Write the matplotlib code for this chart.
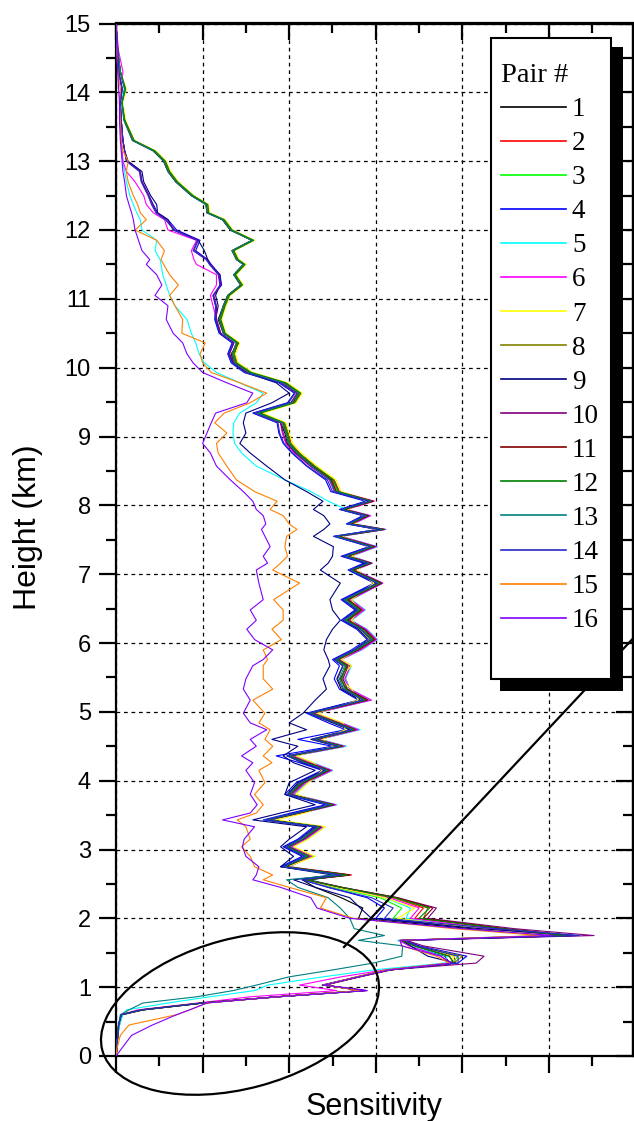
import numpy as np
import matplotlib
matplotlib.use("Agg")
import matplotlib.pyplot as plt
from matplotlib.patches import Ellipse, Rectangle
from matplotlib.lines import Line2D
from matplotlib.ticker import MultipleLocator, NullFormatter
from matplotlib import transforms

W, H = 634, 1121
OUT_FILE = "out.png"

plt.rcParams["font.family"] = ["Liberation Sans", "DejaVu Sans"]

# height grid (km), shared by all 16 pairs
HEIGHT = [0.0, 0.1, 0.3, 0.45, 0.6, 0.67, 0.77, 0.86, 0.95, 1.03, 1.15, 1.25, 1.35, 1.45, 1.6, 1.68, 1.75, 1.85, 2.0, 2.15, 2.3, 2.45, 2.56,
          2.63, 2.75, 2.9, 3.04, 3.15, 3.33, 3.43, 3.53, 3.65, 3.8, 3.97, 4.15, 4.26, 4.36, 4.5, 4.6, 4.74, 4.84, 4.98, 5.17, 5.33, 5.48, 5.67, 5.76,
          5.9, 6.05, 6.2, 6.33, 6.48, 6.63, 6.87, 7.06, 7.16, 7.26, 7.4, 7.55, 7.65, 7.73, 7.85, 7.94, 8.06,
          8.2, 8.37, 8.57, 8.76, 8.9, 9.05, 9.2, 9.34, 9.49, 9.63, 9.78, 9.93, 10.07, 10.2, 10.36, 10.5, 10.7, 10.9, 11.05, 11.2,
          11.35, 11.5, 11.57, 11.7, 11.85, 12.0, 12.15, 12.25, 12.37, 12.5, 12.7, 12.85, 13.0, 13.15, 13.3, 13.6, 13.85, 14.05, 14.3, 14.6, 15.0]

# sensitivity of each pair along HEIGHT
PAIR_1 = [0.00, 0.01, 0.02, 0.04, 0.07, 0.32, 1.02, 1.88, 2.88, 2.38, 2.78, 3.12, 3.85, 3.80, 3.40, 3.28, 5.15, 4.10, 2.80, 2.85, 2.60, 2.30, 2.15,
          2.60, 1.92, 2.18, 1.95, 2.12, 2.30, 1.80, 2.05, 2.45, 1.98, 2.10, 2.40, 2.15, 1.98, 2.55, 2.25, 2.70, 2.50, 2.22, 2.82, 2.60, 2.55, 2.62, 2.52,
          2.75, 2.92, 2.80, 2.62, 2.78, 2.62, 3.00, 2.70, 2.88, 2.62, 2.93, 2.55, 3.02, 2.68, 2.86, 2.60, 2.90,
          2.52, 2.48, 2.25, 2.08, 1.98, 1.95, 1.90, 1.68, 2.02, 2.10, 1.92, 1.52, 1.36, 1.33, 1.42, 1.24, 1.18, 1.24, 1.29, 1.44,
          1.36, 1.47, 1.40, 1.34, 1.57, 1.32, 1.23, 1.05, 1.04, 0.87, 0.69, 0.60, 0.55, 0.43, 0.20, 0.10, 0.07, 0.11, 0.05, 0.02, 0.00]
PAIR_2 = [0.00, 0.01, 0.02, 0.03, 0.06, 0.28, 0.98, 1.85, 2.85, 2.42, 2.82, 3.18, 3.92, 3.90, 3.48, 3.32, 5.25, 4.45, 3.45, 3.55, 3.20, 2.55, 2.20,
          2.72, 2.00, 2.25, 2.02, 2.18, 2.38, 1.78, 2.15, 2.52, 2.05, 2.20, 2.50, 2.25, 2.05, 2.65, 2.35, 2.80, 2.60, 2.30, 2.92, 2.70, 2.65, 2.70, 2.58,
          2.82, 3.00, 2.88, 2.70, 2.85, 2.70, 3.08, 2.75, 2.95, 2.70, 3.00, 2.58, 3.10, 2.72, 2.92, 2.65, 2.98,
          2.58, 2.52, 2.30, 2.12, 2.02, 1.99, 1.95, 1.67, 2.07, 2.14, 1.97, 1.57, 1.40, 1.37, 1.41, 1.26, 1.21, 1.26, 1.31, 1.46,
          1.38, 1.49, 1.41, 1.36, 1.59, 1.34, 1.25, 1.07, 1.06, 0.89, 0.71, 0.62, 0.57, 0.45, 0.21, 0.10, 0.07, 0.11, 0.05, 0.02, 0.00]
PAIR_3 = [0.00, 0.01, 0.02, 0.03, 0.07, 0.31, 1.01, 1.87, 2.86, 2.41, 2.79, 3.14, 3.88, 3.95, 3.45, 3.30, 5.10, 4.30, 3.20, 3.30, 3.05, 2.50, 2.22,
          2.65, 1.97, 2.28, 2.00, 2.20, 2.40, 1.82, 2.12, 2.48, 2.03, 2.18, 2.42, 2.22, 2.03, 2.58, 2.33, 2.72, 2.58, 2.28, 2.85, 2.68, 2.62, 2.68, 2.57,
          2.80, 2.95, 2.83, 2.68, 2.84, 2.68, 3.03, 2.74, 2.92, 2.68, 2.95, 2.57, 3.05, 2.73, 2.88, 2.64, 2.93,
          2.56, 2.51, 2.29, 2.11, 2.01, 1.98, 1.94, 1.66, 2.06, 2.13, 1.96, 1.56, 1.39, 1.36, 1.40, 1.25, 1.20, 1.25, 1.30, 1.45,
          1.37, 1.48, 1.40, 1.35, 1.58, 1.33, 1.24, 1.06, 1.05, 0.88, 0.70, 0.61, 0.56, 0.44, 0.20, 0.10, 0.07, 0.11, 0.05, 0.02, 0.00]
PAIR_4 = [0.00, 0.01, 0.02, 0.03, 0.06, 0.29, 0.99, 1.86, 2.87, 2.39, 2.81, 3.16, 3.95, 4.05, 3.50, 3.35, 5.30, 4.30, 3.00, 3.10, 2.90, 2.45, 2.15,
          2.58, 1.90, 2.15, 1.93, 2.10, 2.28, 1.70, 2.02, 2.42, 1.95, 2.08, 2.38, 2.12, 1.85, 2.50, 2.10, 2.65, 2.45, 2.20, 2.80, 2.58, 2.52, 2.58, 2.50,
          2.72, 2.90, 2.78, 2.60, 2.76, 2.60, 2.98, 2.68, 2.86, 2.60, 2.92, 2.52, 3.02, 2.66, 2.85, 2.58, 2.88,
          2.48, 2.42, 2.20, 2.03, 1.93, 1.88, 1.86, 1.58, 1.98, 2.06, 1.88, 1.48, 1.33, 1.29, 1.34, 1.19, 1.14, 1.15, 1.12, 1.22,
          1.20, 1.10, 1.06, 0.92, 0.97, 0.70, 0.60, 0.48, 0.43, 0.38, 0.30, 0.28, 0.13, 0.10, 0.08, 0.06, 0.05, 0.07, 0.03, 0.02, 0.00]
PAIR_5 = [0.00, 0.01, 0.02, 0.04, 0.08, 0.12, 0.60, 1.08, 1.60, 1.75, 2.39, 2.97, 3.80, 3.82, 3.40, 3.25, 4.95, 4.25, 3.35, 3.40, 3.10, 2.55, 2.25,
          2.62, 2.00, 2.25, 2.02, 2.20, 2.40, 1.80, 2.15, 2.55, 2.05, 2.20, 2.50, 2.28, 2.06, 2.66, 2.35, 2.82, 2.60, 2.30, 2.95, 2.70, 2.65, 2.72, 2.60,
          2.84, 3.02, 2.90, 2.72, 2.88, 2.72, 3.08, 2.76, 2.96, 2.72, 3.02, 2.60, 3.12, 2.74, 2.94, 2.66, 2.45,
          2.25, 1.95, 1.62, 1.45, 1.37, 1.35, 1.36, 1.43, 1.62, 1.70, 1.43, 1.16, 1.02, 0.96, 0.92, 0.87, 0.82, 0.68, 0.62, 0.58,
          0.54, 0.52, 0.51, 0.45, 0.47, 0.30, 0.28, 0.24, 0.20, 0.16, 0.12, 0.10, 0.08, 0.07, 0.06, 0.05, 0.06, 0.08, 0.03, 0.01, 0.00]
PAIR_6 = [0.00, 0.01, 0.02, 0.03, 0.06, 0.25, 0.95, 1.55, 2.55, 2.12, 2.60, 3.10, 3.85, 3.75, 3.38, 3.27, 5.05, 4.30, 3.40, 3.50, 3.15, 2.55, 2.20,
          2.64, 1.99, 2.26, 2.03, 2.19, 2.39, 1.79, 2.14, 2.54, 2.04, 2.19, 2.49, 2.26, 2.05, 2.64, 2.34, 2.80, 2.60, 2.30, 2.95, 2.70, 2.64, 2.71, 2.60,
          2.83, 3.01, 2.89, 2.71, 2.87, 2.71, 3.08, 2.76, 2.96, 2.71, 3.01, 2.60, 3.11, 2.74, 2.94, 2.66, 2.98,
          2.52, 2.46, 2.24, 2.06, 1.96, 1.92, 1.90, 1.62, 2.02, 2.10, 1.92, 1.52, 1.36, 1.31, 1.36, 1.21, 1.16, 1.12, 1.09, 1.16,
          1.16, 0.93, 0.90, 0.87, 0.93, 0.60, 0.56, 0.43, 0.35, 0.32, 0.22, 0.12, 0.08, 0.07, 0.06, 0.05, 0.04, 0.06, 0.08, 0.03, 0.00]
PAIR_7 = [0.00, 0.01, 0.02, 0.03, 0.06, 0.30, 1.00, 1.86, 2.84, 2.40, 2.80, 3.15, 3.88, 3.90, 3.44, 3.30, 5.00, 4.20, 3.25, 3.45, 3.10, 2.55, 2.20,
          2.62, 1.98, 2.30, 2.05, 2.22, 2.42, 1.85, 2.18, 2.45, 2.08, 2.22, 2.38, 2.28, 2.08, 2.52, 2.38, 2.65, 2.62, 2.32, 2.80, 2.72, 2.58, 2.72, 2.60,
          2.78, 2.93, 2.82, 2.72, 2.80, 2.72, 2.98, 2.78, 2.90, 2.72, 2.92, 2.60, 3.02, 2.75, 2.86, 2.67, 2.90,
          2.60, 2.54, 2.32, 2.14, 2.04, 2.00, 1.96, 1.70, 2.08, 2.15, 1.98, 1.58, 1.41, 1.38, 1.43, 1.27, 1.22, 1.27, 1.32, 1.47,
          1.39, 1.50, 1.42, 1.37, 1.60, 1.35, 1.26, 1.08, 1.07, 0.90, 0.72, 0.63, 0.58, 0.46, 0.21, 0.11, 0.08, 0.12, 0.05, 0.02, 0.00]
PAIR_8 = [0.00, 0.01, 0.02, 0.03, 0.06, 0.30, 1.00, 1.86, 2.86, 2.40, 2.80, 3.15, 3.90, 4.00, 3.46, 3.30, 5.20, 4.45, 3.55, 3.60, 3.20, 2.60, 2.20,
          2.66, 1.94, 2.24, 1.99, 2.16, 2.36, 1.77, 2.09, 2.49, 2.01, 2.14, 2.44, 2.19, 2.01, 2.57, 2.31, 2.74, 2.54, 2.26, 2.87, 2.64, 2.61, 2.65, 2.56,
          2.77, 2.96, 2.84, 2.65, 2.81, 2.65, 3.04, 2.71, 2.92, 2.65, 2.96, 2.54, 3.07, 2.69, 2.89, 2.61, 2.94,
          2.55, 2.50, 2.28, 2.10, 2.00, 1.97, 1.93, 1.65, 2.05, 2.12, 1.95, 1.55, 1.38, 1.35, 1.40, 1.25, 1.20, 1.25, 1.30, 1.45,
          1.37, 1.48, 1.40, 1.35, 1.58, 1.33, 1.24, 1.06, 1.05, 0.88, 0.70, 0.61, 0.56, 0.44, 0.20, 0.10, 0.07, 0.11, 0.05, 0.02, 0.00]
PAIR_9 = [0.00, 0.01, 0.02, 0.03, 0.06, 0.30, 1.00, 1.86, 2.85, 2.40, 2.80, 3.15, 3.92, 3.60, 3.40, 3.30, 5.30, 4.20, 2.95, 2.82, 2.70, 2.30, 2.05,
          2.50, 1.90, 2.05, 1.90, 2.00, 2.20, 1.58, 1.90, 2.30, 1.95, 2.00, 2.30, 2.05, 1.93, 2.10, 1.80, 2.20, 2.00, 2.16, 2.30, 2.43, 2.39, 2.47, 2.45,
          2.40, 2.43, 2.50, 2.59, 2.50, 2.47, 2.59, 2.36, 2.45, 2.50, 2.51, 2.28, 2.40, 2.47, 2.40, 2.28, 2.39,
          2.20, 1.95, 1.74, 1.55, 1.43, 1.50, 1.47, 1.50, 1.80, 2.00, 1.85, 1.50, 1.35, 1.30, 1.36, 1.20, 1.15, 1.18, 1.15, 1.20,
          1.20, 1.08, 1.06, 1.02, 0.95, 0.66, 0.60, 0.48, 0.47, 0.40, 0.32, 0.30, 0.14, 0.10, 0.08, 0.06, 0.05, 0.07, 0.03, 0.02, 0.00]
PAIR_10 = [0.00, 0.01, 0.02, 0.03, 0.06, 0.30, 1.00, 1.86, 2.90, 2.40, 2.80, 3.15, 4.16, 4.25, 3.55, 3.35, 5.52, 4.60, 3.60, 3.70, 3.25, 2.62, 2.22,
           2.70, 1.96, 2.23, 2.00, 2.17, 2.37, 1.76, 2.12, 2.52, 2.02, 2.17, 2.47, 2.22, 2.02, 2.62, 2.32, 2.77, 2.57, 2.27, 2.91, 2.67, 2.62, 2.68, 2.57,
           2.80, 2.99, 2.87, 2.68, 2.84, 2.68, 3.07, 2.74, 2.95, 2.68, 2.99, 2.57, 3.10, 2.72, 2.92, 2.64, 2.97,
           2.54, 2.47, 2.25, 2.07, 1.97, 1.93, 1.90, 1.62, 2.02, 2.09, 1.91, 1.51, 1.36, 1.31, 1.36, 1.21, 1.16, 1.16, 1.13, 1.21,
           1.19, 1.09, 1.05, 0.90, 0.95, 0.68, 0.58, 0.47, 0.42, 0.38, 0.30, 0.28, 0.12, 0.10, 0.08, 0.06, 0.05, 0.07, 0.03, 0.02, 0.00]
PAIR_11 = [0.00, 0.01, 0.02, 0.03, 0.06, 0.30, 1.00, 1.86, 2.85, 2.40, 2.80, 3.15, 3.90, 3.85, 3.45, 3.30, 5.25, 4.50, 3.55, 3.66, 3.25, 2.60, 2.20,
           2.70, 1.96, 2.20, 1.97, 2.14, 2.34, 1.74, 2.11, 2.51, 1.99, 2.16, 2.46, 2.21, 1.99, 2.61, 2.29, 2.76, 2.56, 2.24, 2.90, 2.66, 2.59, 2.67, 2.54,
           2.79, 2.98, 2.86, 2.67, 2.83, 2.67, 3.06, 2.73, 2.94, 2.67, 2.98, 2.56, 3.09, 2.71, 2.91, 2.63, 2.96,
           2.54, 2.49, 2.27, 2.09, 1.99, 1.96, 1.92, 1.64, 2.04, 2.11, 1.94, 1.54, 1.37, 1.34, 1.39, 1.24, 1.19, 1.24, 1.29, 1.44,
           1.36, 1.47, 1.39, 1.34, 1.57, 1.32, 1.23, 1.05, 1.04, 0.87, 0.69, 0.60, 0.55, 0.43, 0.19, 0.09, 0.07, 0.10, 0.05, 0.02, 0.00]
PAIR_12 = [0.00, 0.01, 0.02, 0.03, 0.06, 0.30, 1.00, 1.86, 2.85, 2.40, 2.80, 3.15, 3.90, 3.85, 3.45, 3.30, 5.20, 4.45, 3.50, 3.62, 3.22, 2.60, 2.20,
           2.67, 1.95, 2.22, 1.98, 2.15, 2.35, 1.76, 2.10, 2.50, 2.00, 2.15, 2.45, 2.20, 2.00, 2.60, 2.30, 2.75, 2.55, 2.25, 2.88, 2.65, 2.60, 2.66, 2.55,
           2.78, 2.97, 2.85, 2.66, 2.82, 2.66, 3.05, 2.72, 2.93, 2.66, 2.97, 2.55, 3.08, 2.70, 2.90, 2.62, 2.95,
           2.57, 2.51, 2.29, 2.11, 2.01, 1.98, 1.94, 1.66, 2.06, 2.13, 1.96, 1.56, 1.39, 1.36, 1.41, 1.26, 1.21, 1.26, 1.31, 1.46,
           1.38, 1.49, 1.41, 1.36, 1.59, 1.34, 1.25, 1.07, 1.06, 0.89, 0.71, 0.62, 0.57, 0.45, 0.21, 0.10, 0.07, 0.11, 0.05, 0.02, 0.00]
PAIR_13 = [0.00, 0.01, 0.02, 0.03, 0.05, 0.15, 0.31, 0.93, 1.35, 1.62, 2.00, 2.50, 2.97, 3.30, 3.31, 2.80, 3.10, 2.75, 2.70, 2.59, 2.45, 2.10, 1.97,
           2.55, 1.93, 2.20, 1.96, 2.14, 2.33, 1.72, 2.08, 2.47, 1.98, 2.13, 2.43, 2.18, 1.98, 2.58, 2.28, 2.73, 2.53, 2.23, 2.86, 2.63, 2.58, 2.64, 2.53,
           2.76, 2.95, 2.83, 2.64, 2.80, 2.64, 3.03, 2.70, 2.91, 2.64, 2.95, 2.53, 3.06, 2.68, 2.88, 2.60, 2.93,
           2.53, 2.47, 2.26, 2.09, 1.99, 1.96, 1.92, 1.63, 2.03, 2.11, 1.93, 1.53, 1.37, 1.34, 1.39, 1.24, 1.19, 1.24, 1.29, 1.44,
           1.36, 1.47, 1.39, 1.34, 1.57, 1.32, 1.23, 1.05, 1.04, 0.87, 0.69, 0.60, 0.55, 0.43, 0.19, 0.09, 0.07, 0.10, 0.05, 0.02, 0.00]
PAIR_14 = [0.00, 0.01, 0.02, 0.03, 0.06, 0.30, 1.00, 1.86, 2.85, 2.40, 2.80, 3.15, 3.95, 3.95, 3.48, 3.32, 5.35, 4.40, 3.10, 3.20, 2.95, 2.45, 2.15,
           2.60, 1.93, 2.18, 1.96, 2.12, 2.32, 1.73, 2.07, 2.46, 1.98, 2.12, 2.42, 2.17, 1.97, 2.56, 2.27, 2.72, 2.52, 2.22, 2.85, 2.62, 2.56, 2.62, 2.52,
           2.75, 2.94, 2.82, 2.62, 2.79, 2.62, 3.02, 2.69, 2.90, 2.62, 2.94, 2.51, 3.05, 2.67, 2.88, 2.59, 2.92,
           2.50, 2.44, 2.21, 2.04, 1.94, 1.89, 1.87, 1.59, 1.99, 2.07, 1.89, 1.49, 1.34, 1.30, 1.35, 1.20, 1.15, 1.15, 1.12, 1.20,
           1.18, 1.08, 1.04, 0.89, 0.94, 0.67, 0.57, 0.46, 0.41, 0.37, 0.29, 0.27, 0.12, 0.10, 0.08, 0.06, 0.05, 0.07, 0.03, 0.02, 0.00]
PAIR_15 = [0.00, 0.01, 0.05, 0.15, 0.70, 0.85, 1.05, 1.86, 2.82, 2.40, 2.78, 3.12, 3.85, 3.70, 3.30, 3.28, 4.90, 3.90, 2.74, 2.36, 2.43, 2.00, 1.70,
           1.81, 1.60, 1.55, 1.45, 1.55, 1.50, 1.40, 1.62, 1.70, 1.60, 1.72, 1.65, 1.80, 1.70, 1.81, 1.72, 1.78, 1.65, 1.72, 1.58, 1.81, 1.70, 1.70, 1.75,
           1.70, 1.91, 1.80, 1.93, 1.93, 1.82, 2.12, 1.81, 1.90, 1.98, 1.95, 1.97, 2.09, 2.00, 1.93, 1.78, 1.86,
           1.60, 1.39, 1.28, 1.18, 1.16, 1.28, 1.14, 1.25, 1.55, 1.74, 1.43, 1.10, 1.00, 0.97, 1.03, 0.76, 0.77, 0.68, 0.62, 0.72,
           0.62, 0.55, 0.52, 0.56, 0.47, 0.22, 0.35, 0.28, 0.25, 0.20, 0.14, 0.12, 0.14, 0.08, 0.06, 0.05, 0.04, 0.05, 0.02, 0.01, 0.00]
PAIR_16 = [0.00, 0.06, 0.18, 0.42, 0.70, 0.85, 1.05, 1.86, 2.90, 2.40, 2.80, 3.15, 3.88, 3.75, 3.30, 3.28, 5.05, 4.00, 2.70, 2.32, 2.25, 1.90, 1.58,
           1.62, 1.65, 1.50, 1.46, 1.48, 1.60, 1.23, 1.55, 1.63, 1.55, 1.60, 1.50, 1.58, 1.45, 1.62, 1.55, 1.74, 1.55, 1.47, 1.55, 1.47, 1.50, 1.58, 1.70,
           1.81, 1.60, 1.51, 1.62, 1.55, 1.70, 1.65, 1.62, 1.75, 1.70, 1.78, 1.72, 1.68, 1.73, 1.70, 1.62, 1.58,
           1.47, 1.32, 1.16, 1.09, 1.00, 1.05, 1.10, 1.15, 1.51, 1.58, 1.28, 1.00, 0.89, 0.82, 0.77, 0.66, 0.58, 0.60, 0.45, 0.53,
           0.47, 0.35, 0.39, 0.30, 0.26, 0.22, 0.20, 0.18, 0.15, 0.12, 0.10, 0.08, 0.07, 0.06, 0.05, 0.04, 0.04, 0.03, 0.02, 0.01, 0.00]

PAIRS = [PAIR_1, PAIR_2, PAIR_3, PAIR_4, PAIR_5, PAIR_6, PAIR_7, PAIR_8,
         PAIR_9, PAIR_10, PAIR_11, PAIR_12, PAIR_13, PAIR_14, PAIR_15, PAIR_16]
LABELS = [str(i) for i in range(1, 17)]
COLORS = ["#000000", "#FF0000", "#00FF00", "#0000FF", "#00FFFF", "#FF00FF", "#FFFF00", "#808000",
          "#000080", "#800080", "#800000", "#008000", "#008080", "#2828C8", "#FF8000", "#8000FF"]

Y_TICKS = list(range(0, 16))
X_TICKS = list(range(0, 6))

for p in PAIRS:
    assert len(p) == len(HEIGHT), len(p)

fig = plt.figure(figsize=(W / 100, H / 100), dpi=100)
# pixel coords (origin top-left) -> figure
px = transforms.Affine2D().scale(1 / W, -1 / H).translate(0, 1) + fig.transFigure

ax = fig.add_axes([116 / W, 65 / H, 517 / W, 1032.5 / H])
lines = []
for vals, lab, col in zip(PAIRS, LABELS, COLORS):
    ln, = ax.plot(vals, HEIGHT, color=col, lw=0.8, label=lab, zorder=3)
    lines.append(ln)

ax.set_xlim(0, 517 / 86.6)
ax.set_ylim(0, 15)
ax.set_xticks(X_TICKS)
ax.set_yticks(Y_TICKS)
ax.xaxis.set_minor_locator(MultipleLocator(0.5))
ax.yaxis.set_minor_locator(MultipleLocator(0.5))
ax.xaxis.set_major_formatter(NullFormatter())
ax.grid(True, which="major", color="black", lw=0.9, ls=(0, (3, 3)), zorder=1)
ax.tick_params(which="major", direction="out", length=12, width=1.6, labelsize=17, pad=6)
ax.tick_params(which="minor", direction="out", length=7, width=1.6)
for s in ax.spines.values():
    s.set_linewidth(1.6)

secx = ax.secondary_xaxis("top")
secx.set_xticks(X_TICKS)
secx.xaxis.set_minor_locator(MultipleLocator(0.5))
secx.xaxis.set_major_formatter(NullFormatter())
secx.tick_params(which="major", direction="in", length=12, width=1.6)
secx.tick_params(which="minor", direction="in", length=7, width=1.6)
secx.spines["top"].set_linewidth(1.6)

secy = ax.secondary_yaxis("right")
secy.set_yticks(Y_TICKS)
secy.yaxis.set_minor_locator(MultipleLocator(0.5))
secy.yaxis.set_major_formatter(NullFormatter())
secy.tick_params(which="major", direction="in", length=12, width=1.6)
secy.tick_params(which="minor", direction="in", length=7, width=1.6)
secy.spines["right"].set_linewidth(1.6)

ax.set_xlabel("Sensitivity", fontsize=22)
ax.xaxis.set_label_coords(0.5, -0.035)
ax.set_ylabel("Height (km)", fontsize=23)
ax.yaxis.set_label_coords(-0.141, 0.512)

# legend: shadow, frame, then entries
fig.add_artist(Rectangle((500, 47), 123, 644, transform=px, facecolor="black",
                         edgecolor="none", zorder=2))
fig.add_artist(Rectangle((491, 38), 120, 641, transform=px, facecolor="white",
                         edgecolor="black", lw=1.5, zorder=3))
serif = {"family": "Liberation Serif", "size": 19.5}
leg = fig.legend(lines, LABELS, loc="upper left", bbox_to_anchor=(501 / W, 1 - 63 / H),
                 bbox_transform=fig.transFigure, frameon=False, title="Pair #",
                 prop=serif, title_fontproperties={"family": "Liberation Serif", "size": 20.5},
                 handlelength=2.4, handletextpad=0.22, labelspacing=0.335,
                 borderpad=0, borderaxespad=0, alignment="left")
leg.set_zorder(5)
for h in leg.legend_handles:
    h.set_linewidth(1.2)

# zoom marker: ellipse round the boundary layer and a pointer line
fig.add_artist(Line2D([344, 640], [947, 631], transform=px, color="black", lw=1.6, zorder=1.5))
fig.add_artist(Ellipse((240, 1013.5), 285, 150, angle=-15, transform=px, fill=False,
                       edgecolor="black", lw=1.6, zorder=6))

fig.savefig(OUT_FILE, dpi=100)
